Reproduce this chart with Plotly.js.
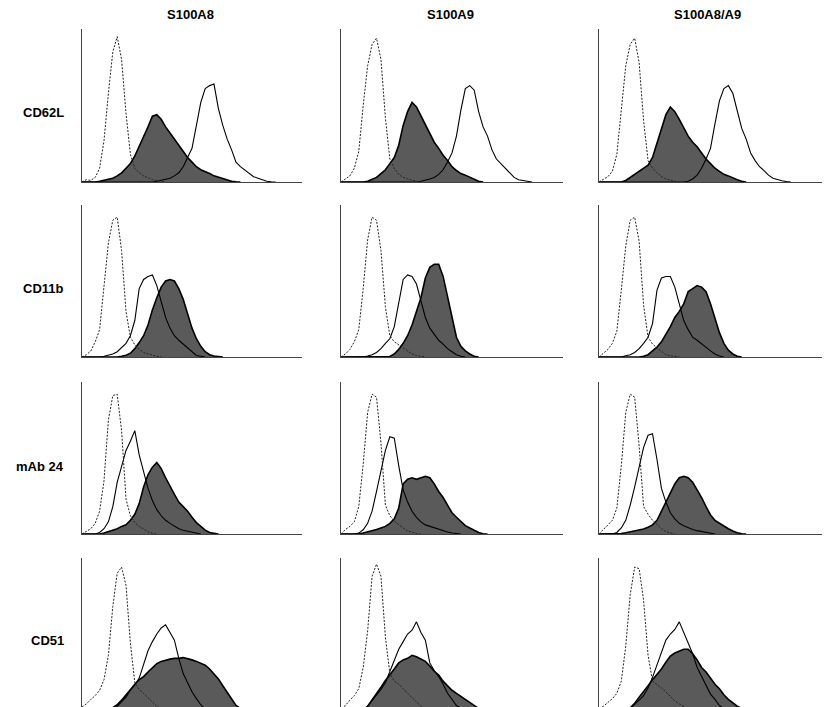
<!DOCTYPE html>
<html>
<head>
<meta charset="utf-8">
<script src="https://cdn.plot.ly/plotly-3.0.1.min.js"></script>
<style>html,body{margin:0;padding:0;background:#fff;}#chart{width:828px;height:707px;}</style>
</head>
<body>
<div id="chart"></div>
<script>
// Fluorescence channel (relative position along log axis, 0-100)
const channel = [0,2,4,6,8,10,12,14,16,18,20,22,24,26,28,30,32,34,36,38,40,42,44,46,48,50,52,54,56,58,60,62,64,66,68,70,72,74,76,78,80,82,84,86,88,90,92,94,96,98,100];

const colTitles = ["S100A8", "S100A9", "S100A8/A9"];
const rowTitles = ["CD62L", "CD11b", "mAb 24", "CD51"];

// Relative cell counts (% of axis height). iso = isotype (dashed), ctrl = unstimulated (open), stim = stimulated (filled)
// CD62L
const cd62l_a8_iso  = [0,1.5,1,3,9,27,58,85,95,80,45,18,9,6,4,2.5,1.5,1,0.5,0];
const cd62l_a8_ctrl = [0,0,0,0,0,0,0,0,0,0,0,0,0,0,0,0,0,0.5,1,1.5,2.5,4,6,10,16,22,37,52,61,63,64,48,37,28,21,13,10,8,5.5,3.5,2.5,1.5,0.5,0.2,0];
const cd62l_a8_stim = [0,0,0,0,0.5,1,1.5,2.5,4,6,9,12,17,23,29,36,43,44,41,36,32,28,24,20,16,13,10,8,7,5.5,4,3,2,1,0.5,0.2,0];
const cd62l_a9_iso  = [0,2,4,9,20,50,76,90,94,80,42,15,9,5,3,2,1,0.5,0];
const cd62l_a9_ctrl = [0,0,0,0,0,0,0,0,0,0,0,0,0,0,0,0,0,0,0.5,1,2,3,5,8,13,19,30,47,61,63,60,46,36,30,21,15,12,9,5.5,3,1.5,1,0.3,0];
const cd62l_a9_stim = [0,0,0,0,0,0,0.5,1.5,3,5.5,8,12,16,24,37,46,52,49,43,37,32,26,22,17.5,14,10,7.5,5.5,4.5,3,1.5,0.5,0];
const cd62l_a8a9_iso  = [0,1.5,3.5,7,18,47,76,90,94,78,40,14,9,6,3.5,2,1,0.5,0];
const cd62l_a8a9_ctrl = [0,0,0,0,0,0,0,0,0,0,0,0,0,0,0,0,0,0,0,0,0.5,2,4.5,9,15,22,38,53,61,63,58,46,35,28,19,14,10,7.5,4.5,2.5,1.5,0.8,0.3,0];
const cd62l_a8a9_stim = [0,0,0,0,0,0,1,3,5,7,9,11,16,25,34,44,49,46,41,35,30,26,23,19,15,12,9,7,5,4,2.5,1.5,0.5,0];
// CD11b
const cd11b_a8_iso  = [0,1.5,4,10,18,46,75,90,92,70,30,13,8,5,3,2,1,0.5,0];
const cd11b_a8_ctrl = [0,0,0,0,0,0.5,1,2,3.5,6,9,14,24,45,51,53,54,47,36,26,19,14,11,8.5,5.5,3,1,0.5,0];
const cd11b_a8_stim = [0,0,0,0,0,0,0,0,0,0.5,1.2,2.5,5.5,9.5,14,21,31,39,46,50,51,50,45,38,29,19,12,7,3.5,1.5,0.7,0.2,0];
const cd11b_a9_iso  = [0,2,5,10,18,45,77,92,90,70,33,14,10,8,5.5,3.5,2,1,0.5,0];
const cd11b_a9_ctrl = [0,0,0,0,0,0,0.7,1.5,3,5.5,9,12,20,35,51,54,53,48,37,26,19,15,11,8.5,5.5,3.5,1.5,0.5,0];
const cd11b_a9_stim = [0,0,0,0,0,0,0,0,0,0,0,0.3,2,5,9,14,21,30,39,52,59,61,61,53,40,25,13,7,4,2,0.5,0];
const cd11b_a8a9_iso  = [0,2.5,5,9,17,44,73,90,92,76,34,13,8.5,6,3.5,1.5,0.8,0.3,0];
const cd11b_a8a9_ctrl = [0,0,0,0,0,0,0.8,1.5,3,5.5,9,13,22,44,52,53,53,46,35,24,18,13,11,8.5,6,4,2,0.7,0];
const cd11b_a8a9_stim = [0,0,0,0,0,0,0,0,0,0,0.5,1.5,4,6.5,10,15,20,26,30,35,43,45,47,46,43,35,25,16,9,4.5,2,0.5,0];
// mAb 24
const mab24_a8_iso  = [0,1.5,3.5,7,15,35,75,91,92,68,23,12,7.5,5,3,1.5,0.4,0];
const mab24_a8_ctrl = [0,0,0,0,1,3.5,8,18,34,45,55,61,68,52,40,30,22,16,12,9,7,5,3.5,2.5,1.8,1,0.3,0];
const mab24_a8_stim = [0,0,0,0,0,0.7,1.5,2.5,3.5,5,6,9,13,20,31,39,44,47,43,37,31,26,21,18,15,11,7.5,5,2.5,1,0.3,0];
const mab24_a9_iso  = [0,3,5,8,18,46,80,92,90,60,19,12,8.5,6,4,2,1,0.3,0];
const mab24_a9_ctrl = [0,0,0,0,0.6,2.8,7,15,28,42,55,64,63,45,29,21,15,11,8,6,5,4,3,2,1.3,0.7,0.3,0];
const mab24_a9_stim = [0,0,0,0,0,0.6,1.3,2.2,3,4,5,7,10,17,33,36,37,36,37,38,37,33,28,24,19,14,11,8,5.5,4,2.5,1,0.2,0];
const mab24_a8a9_iso  = [0,3,6,9,17,45,80,92,90,58,18,13,9,6,3.5,1.5,0.5,0];
const mab24_a8a9_ctrl = [0,0,0,0,1,4,9,19,31,44,57,65,66,49,30,21,14,10,7,5.5,4,3,2.2,1.6,1,0.5,0];
const mab24_a8a9_stim = [0,0,0,0,0,0.3,0.8,1.3,1.8,2.5,3.3,4.5,6,9,15,21,28,33,37,38,37,34,29,24,18,12.5,9,7,5,3.5,2,0.8,0.2,0];
// CD51
const cd51_a8_iso  = [2,4,7,9.5,13,20,36,68,90,94,82,44,18,13.5,11,8,5,2.5,1,0.3,0];
const cd51_a8_ctrl = [0,0,0,0,0,0,0,0,2.5,5.5,8.5,13,16.5,21,30,39,45,50,54,56,51,46,34,24,18,12,7.5,3.5,0.5,0];
const cd51_a8_stim = [0,0,0,0,0,0,0,1.5,3.5,6.5,10,14,17,20,22,25,28,30.5,32,33,33.5,34,34,34.5,34,33,32,31,29.5,27,24,20.5,16,11.5,7.5,3,1,0.2,0];
const cd51_a9_iso  = [1,3,6.5,9.5,14,28,52,88,96,88,48,24,19,17,14,11,8,5,2.5,1,0.3,0];
const cd51_a9_ctrl = [0,0,0,0,0,0,2.5,6,9.5,13.5,18,25,32,40,45,50,52.5,58,51,46,31,26,22,17,11,7,3,1,0];
const cd51_a9_stim = [0,0,0,0,0,0,2.5,6.5,10.5,15,19.5,23,27,31,33,34,36,35,33.5,32,29,25.5,23,19,16,13,11,9,7,4.5,2.5,1,0.3,0];
const cd51_a8a9_iso  = [1,2.5,5,7.5,11,19,42,76,94,93,72,36,19,17,14.5,12,9,6,4,2.5,1,0.3,0];
const cd51_a8a9_ctrl = [0,0,0,0,0,0,0,1,3.5,6.5,9.5,14.5,21.5,30,37.5,46,50,53,58,51,45,37,28,22,16,10.5,7,3,0.8,0];
const cd51_a8a9_stim = [0,0,0,0,0,0,0,1.5,4.5,8.5,12,16,20,23.5,27,31.5,35.5,37.5,39,40,40,37,33,28,25,21,17,14,10,7,4.5,2.5,1,0.3,0];

const panelData = [
  [cd62l_a8_iso, cd62l_a8_ctrl, cd62l_a8_stim], [cd62l_a9_iso, cd62l_a9_ctrl, cd62l_a9_stim], [cd62l_a8a9_iso, cd62l_a8a9_ctrl, cd62l_a8a9_stim],
  [cd11b_a8_iso, cd11b_a8_ctrl, cd11b_a8_stim], [cd11b_a9_iso, cd11b_a9_ctrl, cd11b_a9_stim], [cd11b_a8a9_iso, cd11b_a8a9_ctrl, cd11b_a8a9_stim],
  [mab24_a8_iso, mab24_a8_ctrl, mab24_a8_stim], [mab24_a9_iso, mab24_a9_ctrl, mab24_a9_stim], [mab24_a8a9_iso, mab24_a8a9_ctrl, mab24_a8a9_stim],
  [cd51_a8_iso, cd51_a8_ctrl, cd51_a8_stim], [cd51_a9_iso, cd51_a9_ctrl, cd51_a9_stim], [cd51_a8a9_iso, cd51_a8a9_ctrl, cd51_a8a9_stim]
];

const W = 828, H = 707;
const colPx = [[82, 302], [341, 563], [599, 822]];
const rowPx = [[29, 182], [205, 357], [382, 534], [558, 707]];

const traces = [];
const layout = {
  width: W, height: H,
  margin: {l: 0, r: 0, t: 0, b: 0},
  paper_bgcolor: '#ffffff', plot_bgcolor: 'rgba(0,0,0,0)',
  showlegend: false,
  annotations: []
};

for (let r = 0; r < 4; r++) {
  for (let c = 0; c < 3; c++) {
    const k = r * 3 + c;
    const n = k + 1;
    const xa = n === 1 ? 'x' : 'x' + n;
    const ya = n === 1 ? 'y' : 'y' + n;
    const [iso, ctrl, stim] = panelData[k];
    traces.push({
      x: channel.slice(0, stim.length), y: stim, xaxis: xa, yaxis: ya,
      type: 'scatter', mode: 'lines', fill: 'tozeroy', fillcolor: '#5a5a5a',
      line: {color: '#000', width: 1.6}, hoverinfo: 'skip'
    });
    traces.push({
      x: channel.slice(0, ctrl.length), y: ctrl, xaxis: xa, yaxis: ya,
      type: 'scatter', mode: 'lines',
      line: {color: '#000', width: 1.1}, hoverinfo: 'skip'
    });
    traces.push({
      x: channel.slice(0, iso.length), y: iso, xaxis: xa, yaxis: ya,
      type: 'scatter', mode: 'lines',
      line: {color: '#222', width: 1, dash: '2px,1.5px'}, hoverinfo: 'skip'
    });
    const xKey = n === 1 ? 'xaxis' : 'xaxis' + n;
    const yKey = n === 1 ? 'yaxis' : 'yaxis' + n;
    layout[xKey] = {
      domain: [colPx[c][0] / W, colPx[c][1] / W], range: [0, 100],
      anchor: ya, showline: r < 3, linecolor: '#444', linewidth: 1.2,
      showgrid: false, zeroline: false, showticklabels: false, ticks: '', fixedrange: true
    };
    layout[yKey] = {
      domain: [1 - rowPx[r][1] / H, 1 - rowPx[r][0] / H], range: r < 3 ? [0, 100] : [2, 100],
      anchor: xa, showline: true, linecolor: '#444', linewidth: 1.2,
      showgrid: false, zeroline: false, showticklabels: false, ticks: '', fixedrange: true
    };
  }
}

const font = {family: 'Liberation Sans, Arial, Helvetica, sans-serif', size: 13, color: '#000'};
const colTitleX = [190, 450, 707];
colTitles.forEach((t, i) => {
  layout.annotations.push({
    text: '<b>' + t + '</b>', xref: 'paper', yref: 'paper',
    x: colTitleX[i] / W, y: 1 - 15 / H, xanchor: 'center', yanchor: 'middle',
    showarrow: false, font: font
  });
});
const rowTitleY = [112, 288, 466, 640];
rowTitles.forEach((t, i) => {
  layout.annotations.push({
    text: '<b>' + t + '</b>', xref: 'paper', yref: 'paper',
    x: 66 / W, y: 1 - rowTitleY[i] / H, xanchor: 'right', yanchor: 'middle',
    showarrow: false, font: font
  });
});

Plotly.newPlot('chart', traces, layout, {staticPlot: true, displayModeBar: false});
</script>
</body>
</html>
